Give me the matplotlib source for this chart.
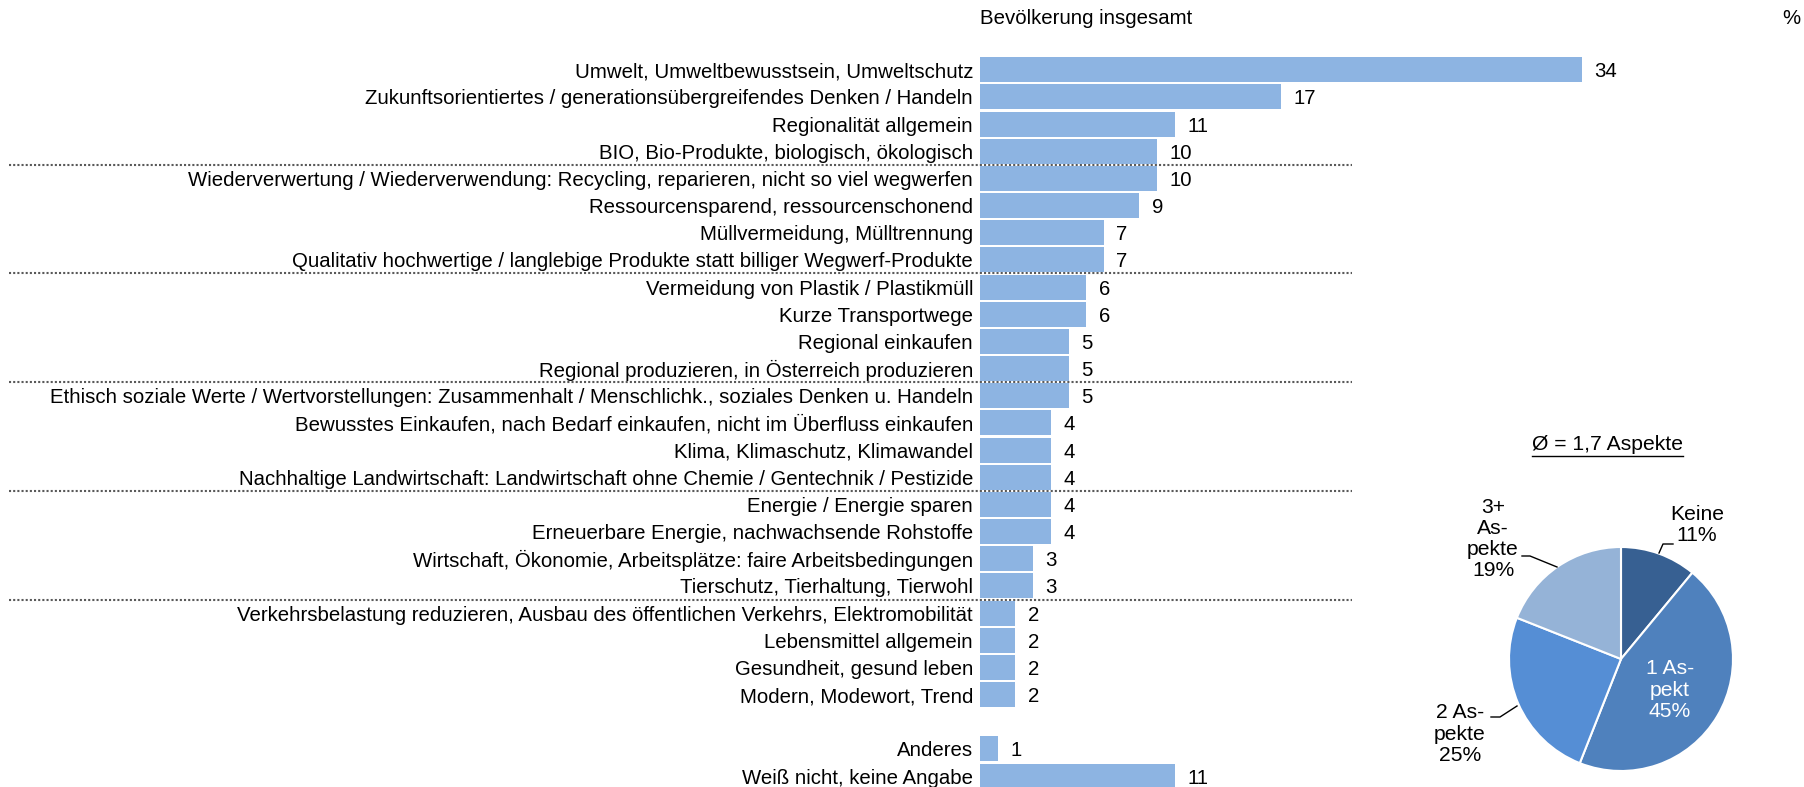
import matplotlib
matplotlib.use("Agg")
import matplotlib.pyplot as plt
from matplotlib.transforms import blended_transform_factory

plt.rcParams["font.family"] = ["Liberation Sans", "DejaVu Sans"]

# =========================
# DATA
# =========================

categories = [
    "Umwelt, Umweltbewusstsein, Umweltschutz",
    "Zukunftsorientiertes / generationsübergreifendes Denken / Handeln",
    "Regionalität allgemein",
    "BIO, Bio-Produkte, biologisch, ökologisch",
    "Wiederverwertung / Wiederverwendung: Recycling, reparieren, nicht so viel wegwerfen",
    "Ressourcensparend, ressourcenschonend",
    "Müllvermeidung, Mülltrennung",
    "Qualitativ hochwertige / langlebige Produkte statt billiger Wegwerf-Produkte",
    "Vermeidung von Plastik / Plastikmüll",
    "Kurze Transportwege",
    "Regional einkaufen",
    "Regional produzieren, in Österreich produzieren",
    "Ethisch soziale Werte / Wertvorstellungen: Zusammenhalt / Menschlichk., soziales Denken u. Handeln",
    "Bewusstes Einkaufen, nach Bedarf einkaufen, nicht im Überfluss einkaufen",
    "Klima, Klimaschutz, Klimawandel",
    "Nachhaltige Landwirtschaft: Landwirtschaft ohne Chemie / Gentechnik / Pestizide",
    "Energie / Energie sparen",
    "Erneuerbare Energie, nachwachsende Rohstoffe",
    "Wirtschaft, Ökonomie, Arbeitsplätze: faire Arbeitsbedingungen",
    "Tierschutz, Tierhaltung, Tierwohl",
    "Verkehrsbelastung reduzieren, Ausbau des öffentlichen Verkehrs, Elektromobilität",
    "Lebensmittel allgemein",
    "Gesundheit, gesund leben",
    "Modern, Modewort, Trend",
]
values = [34, 17, 11, 10, 10, 9, 7, 7, 6, 6, 5, 5, 5, 4, 4, 4, 4, 4, 3, 3, 2, 2, 2, 2]

extra_categories = ["Anderes", "Weiß nicht, keine Angabe"]
extra_values = [1, 11]

# separators after these rows
separator_after = [3, 7, 11, 15, 19]

pie_labels = ["Keine\n11%", "1 As-\npekt\n45%", "2 As-\npekte\n25%", "3+\nAs-\npekte\n19%"]
pie_values = [11, 45, 25, 19]
pie_colors = ["#376092", "#4F81BD", "#558ED5", "#95B3D7"]

bar_color = "#8DB4E2"
font_size = 14.7
pie_font = 15.2

# =========================
# FIGURE
# =========================

W, H = 1804, 787
fig = plt.figure(figsize=(W / 100, H / 100), dpi=100)

row_h = 27.17
top_center = 69.7
n_rows = 27
ax_left = 980
unit = 17.7
xmax = 40

ax_top_px = top_center - row_h / 2
ax_bot_px = ax_top_px + n_rows * row_h
ax = fig.add_axes([
    ax_left / W,
    (H - ax_bot_px) / H,
    xmax * unit / W,
    n_rows * row_h / H,
])

all_labels = categories + [""] + extra_categories
all_values = values + [None] + extra_values
positions = list(range(len(all_labels)))

for pos, val in zip(positions, all_values):
    if val is None:
        continue
    ax.barh(pos, val, height=0.92, color=bar_color, zorder=3)
    ax.text(val + 0.7, pos, str(val), va="center_baseline", ha="left",
            fontsize=font_size, color="black")

ax.set_xlim(0, xmax)
ax.set_ylim(n_rows - 0.5, -0.5)
ax.set_yticks(positions)
ax.set_yticklabels(all_labels, fontsize=font_size, va="center_baseline")
ax.tick_params(axis="y", length=0, pad=5)
ax.set_xticks([])
for s in ax.spines.values():
    s.set_visible(False)

# separator lines
trans = blended_transform_factory(fig.transFigure, ax.transData)
for r in separator_after:
    ax.plot([9 / W, 1352 / W], [r + 0.5, r + 0.5], transform=trans,
            color="#595959", linestyle=(0, (1, 1)), linewidth=1.5,
            clip_on=False, zorder=1)

# headers
fig.text(980 / W, 1 - 17 / H, "Bevölkerung insgesamt", ha="left",
         va="center_baseline", fontsize=font_size)
fig.text(1791 / W, 1 - 17 / H, "%", ha="center", va="center_baseline",
         fontsize=font_size)

# =========================
# PIE
# =========================

cx, cy, box = 1621, 659, 300
pax = fig.add_axes([(cx - box / 2) / W, (H - cy - box / 2) / H, box / W, box / H])
pax.pie(pie_values, colors=pie_colors, radius=112, center=(0, 0),
        startangle=90, counterclock=False,
        wedgeprops=dict(edgecolor="white", linewidth=1.5))
pax.set_xlim(-box / 2, box / 2)
pax.set_ylim(-box / 2, box / 2)
pax.set_aspect("auto")
pax.axis("off")

label_pos = [(76, 134), (49, -31), (-161, -75), (-128, 120)]
label_col = ["black", "white", "black", "black"]
for txt, (lx, ly), c in zip(pie_labels, label_pos, label_col):
    pax.text(lx, ly, txt, ha="center", va="center", fontsize=pie_font,
             color=c, linespacing=1.15, clip_on=False)

leaders = [
    [(52, 115), (42, 115), (38, 106)],
    [(-99, 103), (-91, 103), (-64, 92)],
    [(-130, -58), (-121, -58), (-104, -47)],
]
for pts in leaders:
    xs, ys = zip(*pts)
    pax.plot(xs, ys, color="black", linewidth=1, clip_on=False)

t = fig.text(1607 / W, 1 - 445 / H, "Ø = 1,7 Aspekte", ha="center",
             va="center", fontsize=pie_font)
fig.canvas.draw()
bb = t.get_window_extent()
fig.add_artist(plt.Line2D([bb.x0 / W, bb.x1 / W], [(bb.y0 - 1) / H, (bb.y0 - 1) / H],
                          color="black", linewidth=1))

plt.savefig("out.png", dpi=100)
